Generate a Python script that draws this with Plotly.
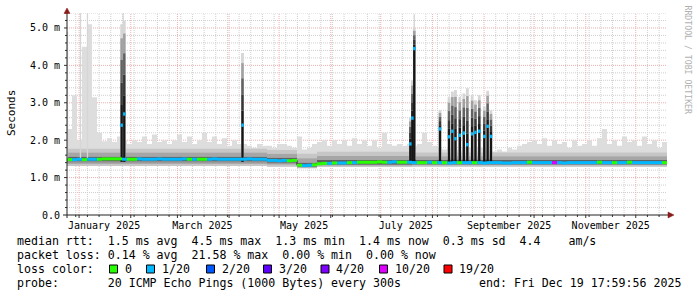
import pandas as pd
import plotly.graph_objects as go

# ---------------- data (values in milliseconds) ----------------
t_start = '2024-12-24 18:00'
t_end = '2025-12-19 18:00'

# 3-day bins: highest ping (upper edge of the smoke)
rtt_max = [2.3, 3.2, 2.0, 4.5, 5.1, 3.15, 2.2,
           1.97, 2.05, 1.95, 2.1,
           2.0,
           1.9, 2.0, 1.95, 2.1, 1.9, 2.15, 1.95, 2.0, 1.9, 2.0,
           2.15, 1.95, 2.1, 1.9, 2.0, 2.2, 1.95, 2.1, 1.9, 2.05,
           1.85, 2.0, 1.9,
           1.9,
           1.85, 1.8, 1.9, 1.85, 1.85, 1.8, 1.9, 1.9, 1.85, 1.8,
           2.1, 1.75, 1.8, 1.9, 1.95, 2.0, 1.85, 2.0, 1.9, 2.0, 1.85, 2.05, 1.9, 2.0,
           1.85, 2.0, 1.8, 2.2, 1.9, 1.85, 1.9, 1.85,
           1.9, 1.85,
           1.9, 2.2, 1.95, 1.85,
           1.8, 1.75, 1.8, 1.8, 1.75, 1.8, 1.8, 1.75, 1.8, 1.8, 1.75,
           1.7, 1.75, 1.7, 1.8, 1.75, 1.85, 1.9, 1.95, 2.0, 1.9,
           2.05, 1.85, 2.0, 1.9, 1.95, 1.8, 2.0, 1.85, 1.9, 2.0,
           1.85, 2.05, 2.3, 1.9, 2.0, 1.85, 2.1, 1.95, 2.0, 1.85,
           2.1, 1.9, 2.0, 1.8, 1.95]

# 3-day bins: median rtt
rtt_med = [1.48, 1.48, 1.49, 1.48, 1.49, 1.49, 1.49, 1.50, 1.50, 1.50, 1.50,
           1.49,
           1.49, 1.49, 1.50, 1.49, 1.49, 1.49, 1.50, 1.49, 1.49, 1.49,
           1.49, 1.50, 1.49, 1.49, 1.49, 1.49, 1.49, 1.50, 1.49, 1.49,
           1.49, 1.49, 1.49, 1.49, 1.50, 1.49, 1.49, 1.49,
           1.46, 1.46, 1.45, 1.46, 1.45, 1.46,
           1.33, 1.32, 1.33, 1.34,
           1.37, 1.38, 1.38, 1.39, 1.39, 1.39, 1.40,
           1.40, 1.41, 1.41, 1.41, 1.41, 1.42, 1.41, 1.41, 1.42, 1.41, 1.41,
           1.41, 1.40,
           1.40, 1.40, 1.41, 1.40, 1.40, 1.40, 1.39, 1.40, 1.40, 1.40,
           1.40, 1.40, 1.40, 1.39, 1.40, 1.40, 1.40, 1.39, 1.39, 1.40,
           1.40, 1.40, 1.41, 1.40, 1.40, 1.40, 1.40, 1.40, 1.40, 1.39,
           1.40, 1.40, 1.40, 1.40, 1.40, 1.40, 1.41, 1.40, 1.40, 1.40,
           1.40, 1.40, 1.41, 1.40, 1.40, 1.40, 1.40, 1.40, 1.40, 1.40]

# 3-day bins: lost pings (out of 20)
loss_cnt = [0, 1, 1, 0, 1, 1, 0, 0, 0, 0, 0,
            1,
            0, 0, 1, 1, 1, 1, 1,
            1, 1, 1, 1, 1, 0, 1, 0, 0, 1, 1, 1, 1, 1, 1, 1, 1,
            1, 1, 1, 1,
            1, 1, 1, 1, 0, 0,
            0, 1, 1, 0,
            0, 0, 1, 0, 1, 1, 0, 1, 0, 0,
            0, 0, 0, 0, 1, 1, 0, 0,
            1, 1,
            0, 0, 1, 0,
            1, 0, 1, 1, 0, 1, 1, 0, 1, 1, 1,
            1, 1, 1, 1, 1, 1, 1, 0, 1, 1, 1, 1, 10,
            1, 1, 1, 1, 1, 1, 1, 1, 0, 1, 1, 0, 1, 1, 0,
            1, 1, 1, 1, 1, 1, 0]

# smoke percentile levels per period
band_start = ['2024-12-24 18:00', '2025-04-23 18:00', '2025-05-11 18:00',
              '2025-05-23 18:00', '2025-07-19 18:00']
band_min = [1.31, 1.29, 1.25, 1.28, 1.29]
band_p20 = [1.37, 1.35, 1.27, 1.32, 1.33]
band_p40 = [1.43, 1.40, 1.29, 1.34, 1.35]
band_p60 = [1.56, 1.53, 1.40, 1.47, 1.47]
band_p80 = [1.67, 1.64, 1.52, 1.58, 1.57]
band_p90 = [1.77, 1.74, 1.64, 1.69, 1.67]

# latency events (median jumps)
evt_time = ['2025-01-26 13:00', '2025-01-28 03:00', '2025-04-09 01:00',
            '2025-07-18 18:00', '2025-07-19 23:00', '2025-07-21 03:00',
            '2025-08-05 13:00', '2025-08-10 23:00', '2025-08-12 23:00',
            '2025-08-14 20:00', '2025-08-17 10:00', '2025-08-19 20:00',
            '2025-08-21 23:00', '2025-08-24 20:00', '2025-08-26 20:00',
            '2025-08-29 03:00', '2025-09-01 03:00', '2025-09-03 03:00',
            '2025-09-05 03:00']
evt_med = [2.40, 2.70, 2.40, 1.90, 2.59, 4.45, 2.30, 2.09, 2.24, 2.04,
           2.13, 2.19, 1.88, 2.17, 2.21, 2.24, 2.10, 2.37, 2.10]
evt_max = [5.10, 5.20, 4.33, 2.60, 3.60, 5.00, 2.80, 3.15, 3.30, 3.34,
           3.16, 3.25, 3.39, 3.20, 3.07, 3.20, 2.90, 3.32, 2.80]
evt_loss = [1] * 19

# single-sample max spikes
thin_time = ['2024-12-25 01:00', '2025-01-01 20:00', '2025-01-06 01:00',
             '2025-01-27 12:00', '2025-07-21 03:00']
thin_max = [4.9, 5.4, 5.4, 5.4, 5.35]

x_tick_dates = ['2025-01-16', '2025-03-16', '2025-05-16', '2025-07-16',
                '2025-09-16', '2025-11-16']
x_tick_text = ['January 2025', 'March 2025', 'May 2025', 'July 2025',
               'September 2025', 'November 2025']
y_tick_vals = [0, 1, 2, 3, 4, 5]
y_tick_text = ['0.0', '1.0 m', '2.0 m', '3.0 m', '4.0 m', '5.0 m']

legend_counts = [0, 1, 2, 3, 4, 10, 19]
legend_labels = ['0', '1/20', '2/20', '3/20', '4/20', '10/20', '19/20']
loss_colors = {0: '#26ff00', 1: '#00b8ff', 2: '#0059ff', 3: '#5e00ff',
               4: '#7e00ff', 10: '#dd00ff', 19: '#ff0000'}

stat_lines = [
    "median rtt:  1.5 ms avg  4.5 ms max  1.3 ms min  1.4 ms now  0.3 ms sd  4.4    am/s",
    "packet loss: 0.14 % avg  21.58 % max  0.00 % min  0.00 % now",
    "loss color:",
    "probe:       20 ICMP Echo Pings (1000 Bytes) every 300s",
]
end_text = "end: Fri Dec 19 17:59:56 2025"

assert len(rtt_max) == 120 and len(rtt_med) == 120 and len(loss_cnt) == 120

# ---------------- figure ----------------
MONO = 'DejaVu Sans Mono'
W, H = 697, 297
L, R, T, B = 67, 30, 13, 82
PW, PH = W - L - R, H - T - B
Y_TOP = 5.4


def px(x):
    return (x - L) / PW


def py(y):
    return (H - B - y) / PH


edges = pd.date_range(t_start, periods=121, freq='3D')
bx = list(edges)
bstart = list(pd.to_datetime(band_start)) + [pd.Timestamp(t_end)]

fig = go.Figure()


def step_trace(xs, ys, fill=None, color=None):
    fig.add_trace(go.Scatter(
        x=xs, y=list(ys) + [ys[-1]], mode='lines', line=dict(width=0, shape='hv'),
        fill=fill, fillcolor=color, hoverinfo='skip', showlegend=False))


def band(xlo, lo, xhi, hi, color):
    step_trace(xlo, lo)
    step_trace(xhi, hi, 'tonexty', color)


band(bstart, band_min, bx, rtt_max, '#dddddd')
band(bstart, band_min, bstart, band_p20, '#c6c6c6')
band(bstart, band_p80, bstart, band_p90, '#c6c6c6')
band(bstart, band_p20, bstart, band_p40, '#9a9a9a')
band(bstart, band_p60, bstart, band_p80, '#a6a6a6')
band(bstart, band_p40, bstart, band_p60, '#606060')


def segments(x0s, x1s, y0s, y1s, color, width):
    xs, ys = [], []
    for a, b, c, d in zip(x0s, x1s, y0s, y1s):
        xs += [a, b, None]
        ys += [c, d, None]
    fig.add_trace(go.Scatter(x=xs, y=ys, mode='lines',
                             line=dict(color=color, width=width),
                             hoverinfo='skip', showlegend=False))


# thin max spikes
segments(thin_time, thin_time, [1.5] * len(thin_time), thin_max, '#d6d6d6', 1.3)

# event columns: light smoke, gradient, black median column, loss marker
segments(evt_time, evt_time, [1.5] * len(evt_time), evt_max, '#d6d6d6', 2.8)
grad = [(0.0, 0.2, '#1a1a1a'), (0.2, 0.42, '#383838'),
        (0.42, 0.65, '#626262'), (0.65, 0.86, '#a0a0a0')]
for f0, f1, col in grad:
    segments(evt_time, evt_time,
             [m + f0 * (M - m) for m, M in zip(evt_med, evt_max)],
             [m + f1 * (M - m) for m, M in zip(evt_med, evt_max)], col, 2.5)
segments(evt_time, evt_time, [1.42] * len(evt_time), evt_med, '#151515', 2.4)

# thin dark median line
fig.add_trace(go.Scatter(x=bx, y=rtt_med + [rtt_med[-1]], mode='lines',
                         line=dict(color='#202020', width=1, shape='hv'),
                         hoverinfo='skip', showlegend=False))

# loss-coloured median
for code in sorted(set(loss_cnt)):
    idx = [i for i, c in enumerate(loss_cnt) if c == code]
    segments([bx[i] for i in idx], [bx[i + 1] for i in idx],
             [rtt_med[i] for i in idx], [rtt_med[i] for i in idx],
             loss_colors[code], 3)

for code in sorted(set(evt_loss)):
    idx = [i for i, c in enumerate(evt_loss) if c == code]
    segments([evt_time[i] for i in idx], [evt_time[i] for i in idx],
             [evt_med[i] - 0.045 for i in idx], [evt_med[i] + 0.045 for i in idx],
             loss_colors[code], 2.5)

# ---------------- grid, axes ----------------
shapes = []
grid_red = '#eeb0b0'
grid_gray = '#cfcfcf'
dot = '1px,1px'

months = pd.date_range('2025-01-01', '2025-12-01', freq='MS')
weeks = [w for w in pd.date_range('2024-12-30', '2025-12-15', freq='7D') if w not in set(months)]
for w in weeks:
    shapes.append(dict(type='line', xref='x', yref='paper', x0=w, x1=w, y0=0, y1=1,
                       line=dict(color=grid_gray, width=1, dash=dot), layer='below'))
    shapes.append(dict(type='line', xref='x', yref='paper', x0=w, x1=w, y0=py(215), y1=py(217),
                       line=dict(color='#333333', width=1), layer='above'))
minor_y = [round(0.2 * k, 1) for k in range(1, 28) if k % 5 != 0]
for yv in minor_y:
    shapes.append(dict(type='line', xref='paper', yref='y', x0=0, x1=1, y0=yv, y1=yv,
                       line=dict(color=grid_gray, width=1, dash=dot), layer='below'))
    shapes.append(dict(type='line', xref='paper', yref='y', x0=px(65), x1=px(67), y0=yv, y1=yv,
                       line=dict(color='#333333', width=1), layer='above'))
for m in months:
    shapes.append(dict(type='line', xref='x', yref='paper', x0=m, x1=m, y0=0, y1=1,
                       line=dict(color=grid_red, width=1, dash=dot), layer='below'))
    shapes.append(dict(type='line', xref='x', yref='paper', x0=m, x1=m, y0=py(215), y1=py(218),
                       line=dict(color='#333333', width=1), layer='above'))
for yv in y_tick_vals[1:]:
    shapes.append(dict(type='line', xref='paper', yref='y', x0=0, x1=1, y0=yv, y1=yv,
                       line=dict(color=grid_red, width=1, dash=dot), layer='below'))
    shapes.append(dict(type='line', xref='paper', yref='y', x0=px(64), x1=px(67), y0=yv, y1=yv,
                       line=dict(color='#333333', width=1), layer='above'))

# axis lines and arrows
shapes.append(dict(type='line', xref='paper', yref='paper', x0=px(63), x1=px(669),
                   y0=py(215), y1=py(215), line=dict(color='#222222', width=1), layer='above'))
shapes.append(dict(type='line', xref='paper', yref='paper', x0=px(67), x1=px(67),
                   y0=py(218), y1=py(12), line=dict(color='#222222', width=1), layer='above'))
shapes.append(dict(type='path', xref='paper', yref='paper',
                   path=f'M {px(668)} {py(212)} L {px(674)} {py(215)} L {px(668)} {py(218)} Z',
                   fillcolor='#8b1a1a', line=dict(color='#8b1a1a', width=0.5), layer='above'))
shapes.append(dict(type='path', xref='paper', yref='paper',
                   path=f'M {px(64)} {py(13.5)} L {px(67)} {py(8)} L {px(70)} {py(13.5)} Z',
                   fillcolor='#8b1a1a', line=dict(color='#8b1a1a', width=0.5), layer='above'))

# legend colour boxes
box_x = [109.5, 146.5, 206.5, 263.5, 321, 379.5, 444]
lab_x = [124, 161, 221, 278, 335, 393.5, 458]
for bxp, code in zip(box_x, legend_counts):
    shapes.append(dict(type='rect', xref='paper', yref='paper',
                       x0=px(bxp), x1=px(bxp + 8), y0=py(273), y1=py(265),
                       fillcolor=loss_colors[code], line=dict(color='#000000', width=1),
                       layer='above'))

annotations = []
row_y = [241, 255, 269, 283]
for txt, yy in zip(stat_lines, row_y):
    annotations.append(dict(text=txt, xref='paper', yref='paper', x=px(15), y=py(yy),
                            xanchor='left', yanchor='middle', showarrow=False,
                            font=dict(family=MONO, size=11.6, color='#000000')))
for lx, lab in zip(lab_x, legend_labels):
    annotations.append(dict(text=lab, xref='paper', yref='paper', x=px(lx - 1), y=py(269),
                            xanchor='left', yanchor='middle', showarrow=False,
                            font=dict(family=MONO, size=11.6, color='#000000')))
annotations.append(dict(text=end_text, xref='paper', yref='paper', x=px(683), y=py(283),
                        xanchor='right', yanchor='middle', showarrow=False,
                        font=dict(family=MONO, size=11.6, color='#000000')))
annotations.append(dict(text='Seconds', xref='paper', yref='paper', x=px(11), y=py(113),
                        xanchor='center', yanchor='middle', showarrow=False, textangle=-90,
                        font=dict(family=MONO, size=11, color='#000000')))
annotations.append(dict(text='RRDTOOL / TOBI OETIKER', xref='paper', yref='paper',
                        x=px(687.5), y=py(60), xanchor='center', yanchor='middle',
                        showarrow=False, textangle=90,
                        font=dict(family=MONO, size=8.2, color='#b0b0b0')))

fig.update_layout(
    width=W, height=H, margin=dict(l=L, r=R, t=T, b=B, pad=0),
    paper_bgcolor='white', plot_bgcolor='white', showlegend=False,
    shapes=shapes, annotations=annotations,
    xaxis=dict(type='date', range=[t_start, t_end], showgrid=False, zeroline=False,
               showline=False, tickmode='array', tickvals=x_tick_dates, ticktext=x_tick_text,
               ticks='', ticklabelstandoff=3,
               tickfont=dict(family=MONO, size=10, color='#000000')),
    yaxis=dict(range=[0, Y_TOP], showgrid=False, zeroline=False, showline=False,
               tickmode='array', tickvals=y_tick_vals, ticktext=y_tick_text, ticks='',
               ticklabelstandoff=6,
               tickfont=dict(family=MONO, size=10, color='#000000')),
)

fig.write_html('out.html')
